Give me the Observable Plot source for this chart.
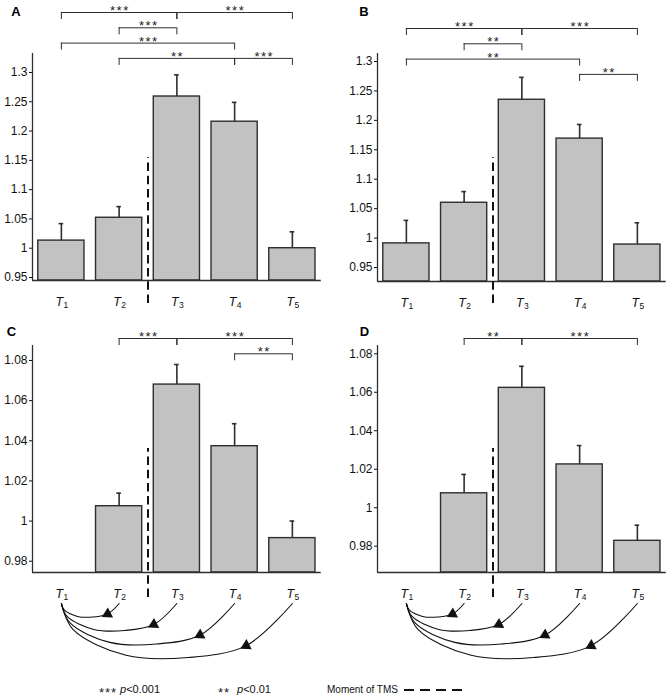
<!DOCTYPE html>
<html><head><meta charset="utf-8">
<script src="https://cdn.jsdelivr.net/npm/d3@7"></script>
<script src="https://cdn.jsdelivr.net/npm/@observablehq/plot@0.6"></script>
<style>
body{margin:0;background:#fff;font-family:"Liberation Sans",Arial,sans-serif;}
#fig{position:relative;width:670px;height:700px;overflow:hidden;}
.panel{position:absolute;}
g[aria-description="stars"] text{letter-spacing:1.5px;}
.lg{position:absolute;color:#111;white-space:nowrap;line-height:normal;}
.lg i{font-style:italic;}
.st{font-size:13px;letter-spacing:1px;color:#222;}
.tx{font-size:11px;}
.tm{font-size:10px;}
</style></head>
<body><div id="fig"></div>
<script>
// ---- data ----
const times = [1, 2, 3, 4, 5];
const timeSubs = ["1", "2", "3", "4", "5"];
const arrowTargets = [2, 3, 4, 5];

const meanA = [1.013, 1.052, 1.259, 1.216, 1.000];
const errA  = [1.042, 1.071, 1.296, 1.249, 1.028];
const meanB = [0.991, 1.060, 1.235, 1.169, 0.989];
const errB  = [1.030, 1.079, 1.273, 1.193, 1.026];
const meanC = [null, 1.0074, 1.068, 1.0373, 0.9915];
const errC  = [null, 1.0139, 1.078, 1.0485, 1.0000];
const meanD = [null, 1.0075, 1.0623, 1.0225, 0.9828];
const errD  = [null, 1.0173, 1.0735, 1.0323, 0.9909];

const yTicksTop = [0.95, 1, 1.05, 1.1, 1.15, 1.2, 1.25, 1.3];
const yTicksBottom = [0.98, 1, 1.02, 1.04, 1.06, 1.08];

// comparisons: [from, to, stars, row]
const sigA = [[1,3,"***",0],[3,5,"***",0],[2,3,"***",1],[1,4,"***",2],[2,4,"**",3],[4,5,"***",3]];
const sigB = [[1,3,"***",0],[3,5,"***",0],[2,3,"**",1],[1,4,"**",2],[4,5,"**",3]];
const sigC = [[2,3,"***",0],[3,5,"***",0],[4,5,"**",1]];
const sigD = [[2,3,"**",0],[3,5,"***",0]];

// ---- layout ----
const panels = [
  {letter:"A", mean:meanA, err:errA, sig:sigA, ticks:yTicksTop, left:0, top:0, width:335, height:312,
   mL:32, mR:14.25, mT:53, mB:32, yDomain:[0.94488, 1.33244], bracketTop:12, dashTop:157, dashBottom:303, letterX:15.5, letterY:11.5, arrows:false},
  {letter:"B", mean:meanB, err:errB, sig:sigB, ticks:yTicksTop, left:335, top:0, width:335, height:312,
   mL:42, mR:4.25, mT:53, mB:31, yDomain:[0.92622, 1.31359], bracketTop:28, dashTop:157, dashBottom:303, letterX:28.5, letterY:11, arrows:false},
  {letter:"C", mean:meanC, err:errC, sig:sigC, ticks:yTicksBottom, left:0, top:320, width:335, height:350,
   mL:32, mR:14.25, mT:25, mB:98, yDomain:[0.97437, 1.08747], bracketTop:18, dashTop:128, dashBottom:277, letterX:11, letterY:11.5, arrows:true},
  {letter:"D", mean:meanD, err:errD, sig:sigD, ticks:yTicksBottom, left:335, top:320, width:335, height:350,
   mL:42, mR:4.25, mT:25, mB:98, yDomain:[0.96633, 1.08431], bracketTop:18, dashTop:128, dashBottom:277, letterX:29, letterY:11.5, arrows:true}
];

const ink = "#2e2e2e";
const fig = document.getElementById("fig");

function makePanel(c) {
  const base = c.height - c.mB;
  const ys = d3.scaleLinear(c.yDomain, [base, c.mT]);
  const xs = d3.scaleLinear([0.5, 5.5], [c.mL, c.width - c.mR]);
  const py = p => ys.invert(p);
  const px = p => xs.invert(p);
  const y0 = c.yDomain[0];
  const data = times.map((t, i) => ({t, mean: c.mean[i], err: c.err[i]})).filter(d => d.mean != null);

  const rowGap = 15.3, tickLen = 7;
  const br = c.sig.map(([a, b, lab, row]) => {
    const p = c.bracketTop + row * rowGap;
    return {a, b, lab, yy: py(p), yt: py(p + tickLen)};
  });
  const brTicks = br.flatMap(d => [{x: d.a, y1: d.yy, y2: d.yt}, {x: d.b, y1: d.yy, y2: d.yt}]);
  const capHalf = px(c.mL + 2.3) - 0.5;

  const marks = [
    Plot.rectY(data, {x1: d => d.t - 0.4, x2: d => d.t + 0.4, y1: y0, y2: "mean", fill: "#c2c2c2", stroke: ink, strokeWidth: 1.4}),
    Plot.ruleX(data, {x: "t", y1: "mean", y2: "err", stroke: ink, strokeWidth: 1.6}),
    Plot.ruleY(data, {y: "err", x1: d => d.t - capHalf, x2: d => d.t + capHalf, stroke: ink, strokeWidth: 1.6}),
    Plot.ruleY([y0], {x1: 0.5, x2: 5.5, stroke: ink, strokeWidth: 1.3}),
    Plot.ruleX([0.5], {y1: y0, y2: c.yDomain[1], stroke: ink, strokeWidth: 1.3}),
    Plot.ruleX([2.5], {y1: py(c.dashBottom), y2: py(c.dashTop), stroke: "#111", strokeWidth: 2, strokeDasharray: "8.5,4.7"}),
    Plot.ruleY(br, {y: "yy", x1: "a", x2: "b", stroke: ink, strokeWidth: 1}),
    Plot.ruleX(brTicks, {x: "x", y1: "y1", y2: "y2", stroke: ink, strokeWidth: 1}),
    Plot.text(br, {x: d => (d.a + d.b) / 2, y: "yy", text: "lab", dy: -1.75, dx: 0.75, fontSize: 13, fill: "#222", ariaDescription: "stars"}),
    Plot.text(times, {x: d => d, y: py(base + 21), text: () => "T", fontStyle: "italic", fontSize: 12.5, dx: -2, fill: "#111"}),
    Plot.text(times, {x: d => d, y: py(base + 25), text: (d, i) => timeSubs[i], fontSize: 8.5, dx: 4.5, fill: "#111"}),
    Plot.text([c.letter], {x: px(c.letterX), y: py(c.letterY), text: d => d, fontWeight: "bold", fontSize: 13, fill: "#000"})
  ];

  if (c.arrows) {
    const tt = [0, 0.05, 0.28, 0.55, 0.8, 1];
    const ff = [0, 0.48, 0.96, 1.0, 0.78, 0];
    const startP = base + 31;
    const paths = [], heads = [];
    arrowTargets.forEach(k => {
      const x1 = xs(1), x2 = xs(k), span = x2 - x1, depth = 13.5 * (k - 1);
      const pts = tt.map((t, j) => ({k, X: x1 + span * t, Y: startP + depth * ff[j]}));
      pts.reverse().forEach(p => paths.push({k, x: px(p.X), y: py(p.Y)}));
      // head at t=0.8 ; direction of travel from T_k toward T1
      const hx = x1 + span * 0.8, hy = startP + depth * 0.78;
      const dX = -(span * 0.45), dY = depth * 1.0;
      const ang = Math.atan2(dY, dX) * 180 / Math.PI;
      heads.push({x: px(hx), y: py(hy), r: ang + 90});
    });
    marks.push(Plot.line(paths, {x: "x", y: "y", z: "k", curve: "catmull-rom", stroke: "#111", strokeWidth: 1.1}));
    marks.push(Plot.dot(heads, {x: "x", y: "y", rotate: "r", symbol: "triangle", r: 4.2, fill: "#111", stroke: "none"}));
  }

  const svg = Plot.plot({
    width: c.width, height: c.height,
    marginLeft: c.mL, marginRight: c.mR, marginTop: c.mT, marginBottom: c.mB,
    style: {fontFamily: '"Liberation Sans", Arial, sans-serif', fontSize: "12px", color: "#111", background: "transparent", overflow: "visible"},
    x: {domain: [0.5, 5.5], axis: null},
    y: {domain: c.yDomain, ticks: c.ticks, tickFormat: "~g", tickSize: 3, tickPadding: 2, label: null},
    marks
  });
  svg.classList.add("panel");
  svg.style.left = c.left + "px";
  svg.style.top = c.top + "px";
  fig.appendChild(svg);
}
panels.forEach(makePanel);

// ---- legend ----
function addLegend(cls, html, left, top) {
  const d = document.createElement("span");
  d.className = "lg " + cls;
  d.style.left = left + "px"; d.style.top = top + "px";
  d.innerHTML = html;
  fig.appendChild(d);
}
addLegend("st", "***", 99, 684.5);
addLegend("tx", "<i>p</i>&lt;0.001", 120, 683);
addLegend("st", "**", 218, 684.5);
addLegend("tx", "<i>p</i>&lt;0.01", 237, 683);
addLegend("tm", 'Moment of TMS', 327, 684);
addLegend("", '<svg width="60" height="6" style="display:block"><line x1="1" y1="3" x2="60" y2="3" stroke="#111" stroke-width="2" stroke-dasharray="10,6"/></svg>', 403, 687);
</script>
</body></html>
